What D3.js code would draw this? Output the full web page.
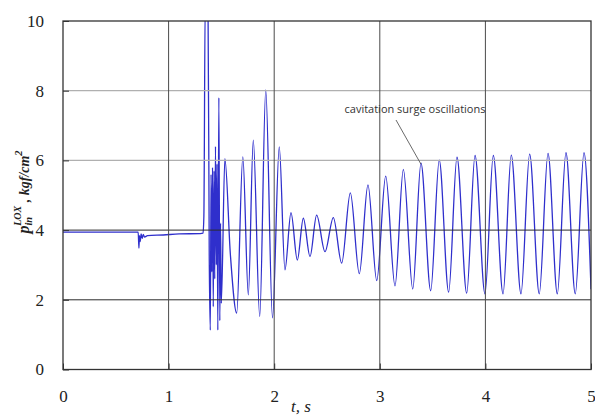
<!DOCTYPE html>
<html>
<head>
<meta charset="utf-8">
<script src="https://cdn.jsdelivr.net/npm/d3@7"></script>
<style>
  html, body { margin: 0; padding: 0; background: #ffffff; }
  svg { display: block; }
</style>
</head>
<body>
<svg id="chart" width="595" height="416"></svg>
<script>
// LOX pump inlet pressure transient: time (s) and pressure (kgf/cm^2) samples
const signalTime = [0, 0.712, 0.719, 0.724, 0.731, 0.740, 0.750, 0.760, 0.772, 0.80, 0.95, 1.10, 1.30,
  1.326, 1.334, 1.347, 1.373, 1.385, 1.395, 1.402, 1.409, 1.416, 1.423, 1.430, 1.437, 1.444, 1.452,
  1.459, 1.466, 1.476, 1.485, 1.492, 1.499, 1.533, 1.585, 1.645, 1.703, 1.755, 1.802, 1.863, 1.920,
  1.984, 2.048, 2.102, 2.159, 2.219, 2.276, 2.339, 2.402, 2.481, 2.560, 2.639, 2.721, 2.806, 2.888,
  2.971, 3.056, 3.144, 3.223, 3.312, 3.390, 3.482, 3.563, 3.652, 3.731, 3.823, 3.902, 3.996, 4.075,
  4.167, 4.245, 4.337, 4.419, 4.510, 4.593, 4.681, 4.763, 4.851, 4.934, 5.0];
const signalPressure = [3.94, 3.94, 3.48, 3.84, 3.67, 3.89, 3.76, 3.88, 3.80, 3.84, 3.86, 3.89, 3.90,
  3.91, 4.4, 10.6, 10.6, 3.2, 1.13, 5.6, 2.8, 5.8, 1.8, 5.7, 2.6, 6.4, 3.0,
  5.9, 1.13, 7.8, 1.4, 4.2, 1.9, 6.05, 3.3, 1.62, 6.1, 2.14, 6.58, 1.52, 8.02,
  1.48, 6.39, 2.86, 4.5, 3.14, 4.34, 3.24, 4.43, 3.38, 4.36, 3.05, 5.07, 2.75, 5.3,
  2.55, 5.55, 2.40, 5.74, 2.31, 5.92, 2.26, 6.01, 2.22, 6.09, 2.19, 6.14, 2.17, 6.14,
  2.17, 6.15, 2.17, 6.18, 2.17, 6.2, 2.17, 6.22, 2.17, 6.22, 2.3];

const xTicks = [0, 1, 2, 3, 4, 5];
const yTicks = [0, 2, 4, 6, 8, 10];
const darkGridY = [2, 4];
const lightGridY = [6, 8];
const gridX = [1, 2, 3, 4];

// annotated peak of the surge oscillations
const notePeak = { t: 3.390, p: 5.92 };
const noteText = "cavitation surge oscillations";

const svg = d3.select("#chart");
const plotLeft = 63, plotRight = 591, plotTop = 21, plotBottom = 369.5;

const x = d3.scaleLinear().domain([0, 5]).range([plotLeft, plotRight]);
const y = d3.scaleLinear().domain([0, 10]).range([plotBottom, plotTop]);

svg.append("defs").append("clipPath").attr("id", "plotClip")
  .append("rect").attr("x", plotLeft).attr("y", plotTop)
  .attr("width", plotRight - plotLeft).attr("height", plotBottom - plotTop);

// pressure trace
const data = signalTime.map((t, i) => ({ t, p: signalPressure[i] }));
const line = d3.line().x(d => x(d.t)).y(d => y(d.p)).curve(d3.curveMonotoneX);
svg.append("path")
  .datum(data)
  .attr("clip-path", "url(#plotClip)")
  .attr("fill", "none")
  .attr("stroke", "#2f2fcc")
  .attr("stroke-width", 1.3)
  .attr("stroke-linejoin", "round")
  .attr("d", line);

// grid
const grid = svg.append("g");
grid.selectAll(".gl").data(lightGridY).enter().append("line")
  .attr("x1", plotLeft).attr("x2", plotRight)
  .attr("y1", d => y(d)).attr("y2", d => y(d))
  .attr("stroke", "#b0b0b0").attr("stroke-width", 1.2);
grid.selectAll(".gd").data(darkGridY).enter().append("line")
  .attr("x1", plotLeft).attr("x2", plotRight)
  .attr("y1", d => y(d)).attr("y2", d => y(d))
  .attr("stroke", "#2a2a2a").attr("stroke-width", 1);
grid.selectAll(".gv").data(gridX).enter().append("line")
  .attr("x1", d => x(d)).attr("x2", d => x(d))
  .attr("y1", plotTop).attr("y2", plotBottom)
  .attr("stroke", "#4a4a4a").attr("stroke-width", 1);

// axes (inner tick marks, serif labels)
const yAxis = d3.axisLeft(y).tickValues(yTicks).tickSizeInner(-6).tickSizeOuter(0).tickPadding(19)
  .tickFormat(d3.format("d"));
const gy = svg.append("g").attr("transform", `translate(${plotLeft},0)`).call(yAxis);
const xAxis = d3.axisBottom(x).tickValues(xTicks).tickSizeInner(-6).tickSizeOuter(0).tickPadding(20)
  .tickFormat(d3.format("d"));
const gx = svg.append("g").attr("transform", `translate(0,${plotBottom})`).call(xAxis);
[gy, gx].forEach(g => {
  g.select(".domain").remove();
  g.selectAll(".tick line").attr("stroke", "#333");
  g.selectAll(".tick text")
    .attr("font-family", "'Liberation Serif', 'Times New Roman', serif")
    .attr("font-size", 17)
    .attr("fill", "#222");
});

// frame
svg.append("rect")
  .attr("x", plotLeft).attr("y", plotTop)
  .attr("width", plotRight - plotLeft).attr("height", plotBottom - plotTop)
  .attr("fill", "none").attr("stroke", "#333").attr("stroke-width", 1.3);

// axis titles
svg.append("text")
  .attr("x", 291).attr("y", 412)
  .attr("font-family", "'Liberation Serif', serif")
  .attr("font-style", "italic")
  .attr("font-size", 17)
  .attr("fill", "#222")
  .text("t,  s");

const yt = svg.append("text")
  .attr("transform", "translate(29,192) rotate(-90)")
  .attr("text-anchor", "middle")
  .attr("font-family", "'Liberation Serif', serif")
  .attr("font-style", "italic")
  .attr("font-weight", "bold")
  .attr("fill", "#222");
yt.append("tspan").attr("font-size", 16).text("p");
yt.append("tspan").attr("font-size", 10.5).attr("dy", 3).text("in");
yt.append("tspan").attr("font-size", 10).attr("dx", -9).attr("dy", -11).text("LOX");
yt.append("tspan").attr("font-size", 14).attr("dy", 8).text(" , kgf/cm");
yt.append("tspan").attr("font-size", 10.5).attr("dy", -7).text("2");

// annotation
svg.append("line")
  .attr("x1", 396).attr("y1", 120)
  .attr("x2", x(notePeak.t)).attr("y2", y(notePeak.p) + 1)
  .attr("stroke", "#444").attr("stroke-width", 0.8);
svg.append("text")
  .attr("x", 415).attr("y", 113)
  .attr("text-anchor", "middle")
  .attr("font-family", "'Open Sans', sans-serif")
  .attr("font-size", 11)
  .attr("fill", "#333")
  .text(noteText);
</script>
</body>
</html>
